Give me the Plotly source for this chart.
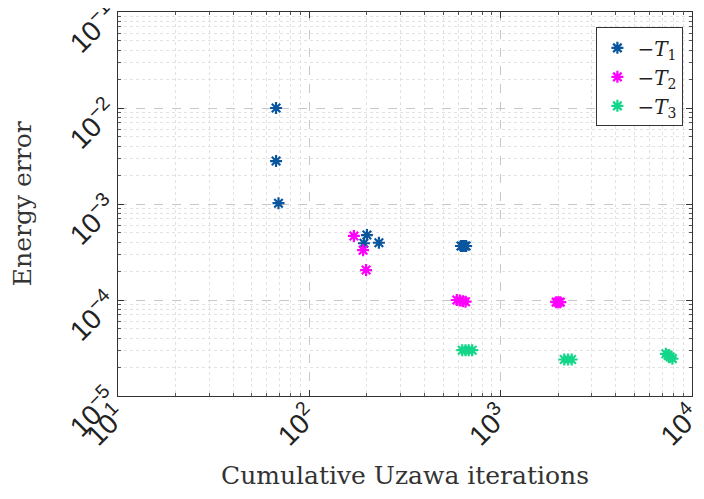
import plotly.graph_objects as go

# Data
t1_x = [67, 67, 69, 200, 193, 231, 620, 635, 648, 660]
t1_y = [1.0e-2, 2.8e-3, 1.02e-3, 4.75e-4, 3.9e-4, 3.95e-4, 3.65e-4, 3.65e-4, 3.65e-4, 3.65e-4]

t2_x = [171, 191, 198, 590, 612, 635, 655, 1950, 2000, 2050]
t2_y = [4.65e-4, 3.3e-4, 2.05e-4, 1.0e-4, 9.9e-5, 9.7e-5, 9.6e-5, 9.5e-5, 9.5e-5, 9.5e-5]

t3_x = [630, 655, 680, 710, 2150, 2250, 2350, 7300, 7500, 7700, 7900]
t3_y = [3.0e-5, 3.0e-5, 3.0e-5, 3.0e-5, 2.4e-5, 2.4e-5, 2.4e-5, 2.75e-5, 2.65e-5, 2.55e-5, 2.45e-5]

series_names = ["\u2212<i>T</i><sub>1</sub>", "\u2212<i>T</i><sub>2</sub>", "\u2212<i>T</i><sub>3</sub>"]
colors = ["#0a569e", "#ff00ff", "#14d68a"]

x_tickvals = [1e1, 1e2, 1e3, 1e4]
x_ticktext = ["10<sup>1</sup>", "10<sup>2</sup>", "10<sup>3</sup>", "10<sup>4</sup>"]
y_tickvals = [1e-5, 1e-4, 1e-3, 1e-2, 1e-1]
y_ticktext = ["10<sup>\u22125</sup>", "10<sup>\u22124</sup>", "10<sup>\u22123</sup>",
              "10<sup>\u22122</sup>", "10<sup>\u22121</sup>"]

x_title = "Cumulative Uzawa iterations"
y_title = "Energy error"

x_minor = [m * d for d in x_tickvals[:-1] for m in range(2, 10)]
y_minor = [m * d for d in y_tickvals[:-1] for m in range(2, 10)]

fig = go.Figure()
for xs, ys, name, c in zip([t1_x, t2_x, t3_x], [t1_y, t2_y, t3_y], series_names, colors):
    fig.add_trace(go.Scatter(
        x=xs, y=ys, mode="markers", name=name,
        marker=dict(symbol="asterisk-open", size=10, color=c,
                    line=dict(color=c, width=2.2)),
    ))

axis_common = dict(
    type="log", tickmode="array", automargin=False,
    showline=True, linecolor="#333333", linewidth=1, mirror="ticks",
    ticks="inside", ticklen=6, tickcolor="#333333",
    showgrid=True, gridcolor="#c8c8c8", griddash="dash", gridwidth=1,
    tickangle=-45, ticklabeloverflow="allow",
    tickfont=dict(family="Liberation Sans, Arial, sans-serif", size=28, color="#222222"),
    zeroline=False,
)
minor_common = dict(tickmode="array", showgrid=True, gridcolor="#e2e2e2", griddash="dot",
                    ticks="inside", ticklen=3, tickcolor="#555555")

fig.update_xaxes(**axis_common, range=[1, 4], tickvals=x_tickvals, ticktext=x_ticktext,
                 ticklabelstandoff=-9,
                 minor=dict(**minor_common, tickvals=x_minor))
fig.update_yaxes(**axis_common, range=[-5, -1], tickvals=y_tickvals, ticktext=y_ticktext,
                 ticklabelstandoff=2, ticklabelshift=-1,
                 minor=dict(**minor_common, tickvals=y_minor))

title_font = dict(family="DejaVu Serif, Liberation Serif, serif", size=25, color="#333333")
fig.add_annotation(text=x_title, xref="paper", yref="paper", x=0.5, y=-0.206,
                   xanchor="center", yanchor="middle", showarrow=False, font=title_font)
fig.add_annotation(text=y_title, xref="paper", yref="paper", x=-0.167, y=0.5,
                   xanchor="center", yanchor="middle", textangle=-90, showarrow=False, font=title_font)

fig.update_layout(
    width=696, height=491,
    margin=dict(l=110, r=12, t=4, b=103),
    paper_bgcolor="white", plot_bgcolor="white",
    legend=dict(x=0.985, y=0.96, xanchor="right", yanchor="top",
                bgcolor="white", bordercolor="#333333", borderwidth=1,
                font=dict(family="DejaVu Serif, Liberation Serif, serif", size=20, color="#222222"),
                itemwidth=30, tracegroupgap=0),
    showlegend=True,
)

fig.write_html("out.html")
